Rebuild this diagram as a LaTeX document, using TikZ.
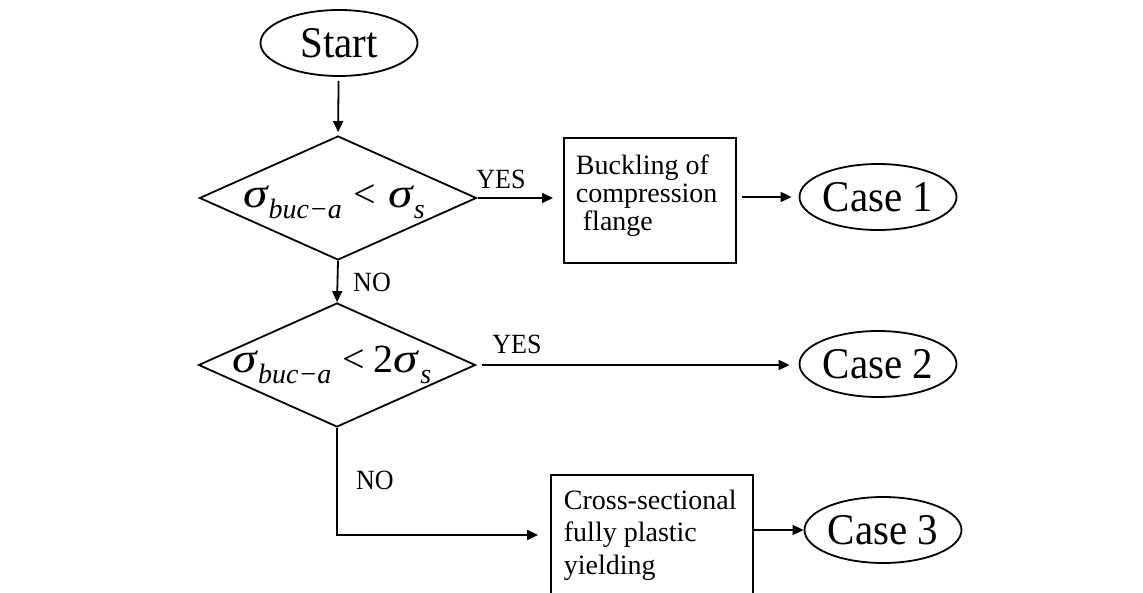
\documentclass[tikz,border=0pt]{standalone}
\usepackage{fontspec}
\setmainfont{Liberation Serif}
\usetikzlibrary{shapes.geometric,arrows.meta,calc}
\newcommand{\sgm}{\scalebox{1.18}[1.0]{\fontsize{42}{42}\selectfont\itshape σ}}
\newcommand{\sbs}[1]{\raisebox{-11pt}{\fontsize{28}{28}\selectfont\itshape #1}}
\newcommand{\tall}[1]{\scalebox{1}[1.07]{#1}}
\begin{document}
\begin{tikzpicture}[x=1pt,y=-1pt,
  line width=1.8pt,
  every node/.style={inner sep=0pt},
  term/.style={ellipse,draw,minimum width=157pt,minimum height=66pt,font=\fontsize{41}{41}\selectfont},
  decision/.style={diamond,draw,minimum width=277pt,minimum height=124pt},
  procbox/.style={rectangle,draw,anchor=north west},
  lbl/.style={font=\fontsize{26}{26}\selectfont},
  arr/.style={-{Triangle[length=11pt,width=10pt]}},
  mathfont/.style={font=\fontsize{40}{40}\selectfont}
]
\clip (0,0) rectangle (1143,593);
\fill[white] (0,0) rectangle (1143,593);

\node[term] (start) at (339,43) {\tall{Start}};

\node[decision,label={[xshift=-4pt,yshift=-4pt,mathfont]center:{\sgm\hspace{1pt}\sbs{buc−a}\hspace{12pt}<\hspace{12pt}\sgm\hspace{1pt}\sbs{s}}}] (d1) at (338,198) {};

\node[decision,label={[xshift=-5pt,yshift=0pt,mathfont]center:{\sgm\hspace{1pt}\sbs{buc−a}\hspace{11pt}<\hspace{9pt}2\sgm\hspace{2pt}\sbs{s}}}] (d2) at (337,365) {};

\node[procbox,minimum width=172pt,minimum height=125pt,
  label={[anchor=north west,xshift=12pt,yshift=-17pt,align=left,font=\fontsize{28}{28}\selectfont]north west:{Buckling of\\compression\\\hspace*{7pt}flange}}] (b1) at (563,137) {};

\node[procbox,minimum width=202pt,minimum height=160pt,
  label={[anchor=north west,xshift=13pt,yshift=-15pt,align=left,font=\fontsize{28}{32.5}\selectfont]north west:{Cross-sectional\\fully plastic\\yielding}}] (b3) at (550,474) {};

\node[term] (c1) at (878,197) {\tall{Case 1}};
\node[term] (c2) at (878,364) {\tall{Case 2}};
\node[term] (c3) at (883,530) {\tall{Case 3}};

\node[lbl] (yes1) at (501,179) {\tall{YES}};
\node[lbl] (no1) at (372,282) {\tall{NO}};
\node[lbl] (yes2) at (517,344) {\tall{YES}};
\node[lbl] (no2) at (375,480) {\tall{NO}};

\coordinate (n3) at (538,535);

\draw[arr,shorten <=4pt,shorten >=3pt] (start) -- (d1.north);
\draw[arr,shorten <=1pt,shorten >=10pt] (d1.east) -- (b1.west |- d1.east);
\draw[arr,shorten <=5pt,shorten >=7pt] (b1.east |- c1.west) -- (c1.west);
\draw[arr] (d1.south) -- (d2.north);
\draw[arr,shorten <=6pt,shorten >=9pt] (d2.east) -- (d2.east -| c2.west);
\draw[arr] (d2.south) |- (n3);
\draw[arr] (b3.east |- c3.west) -- (c3.west);
\end{tikzpicture}
\end{document}
